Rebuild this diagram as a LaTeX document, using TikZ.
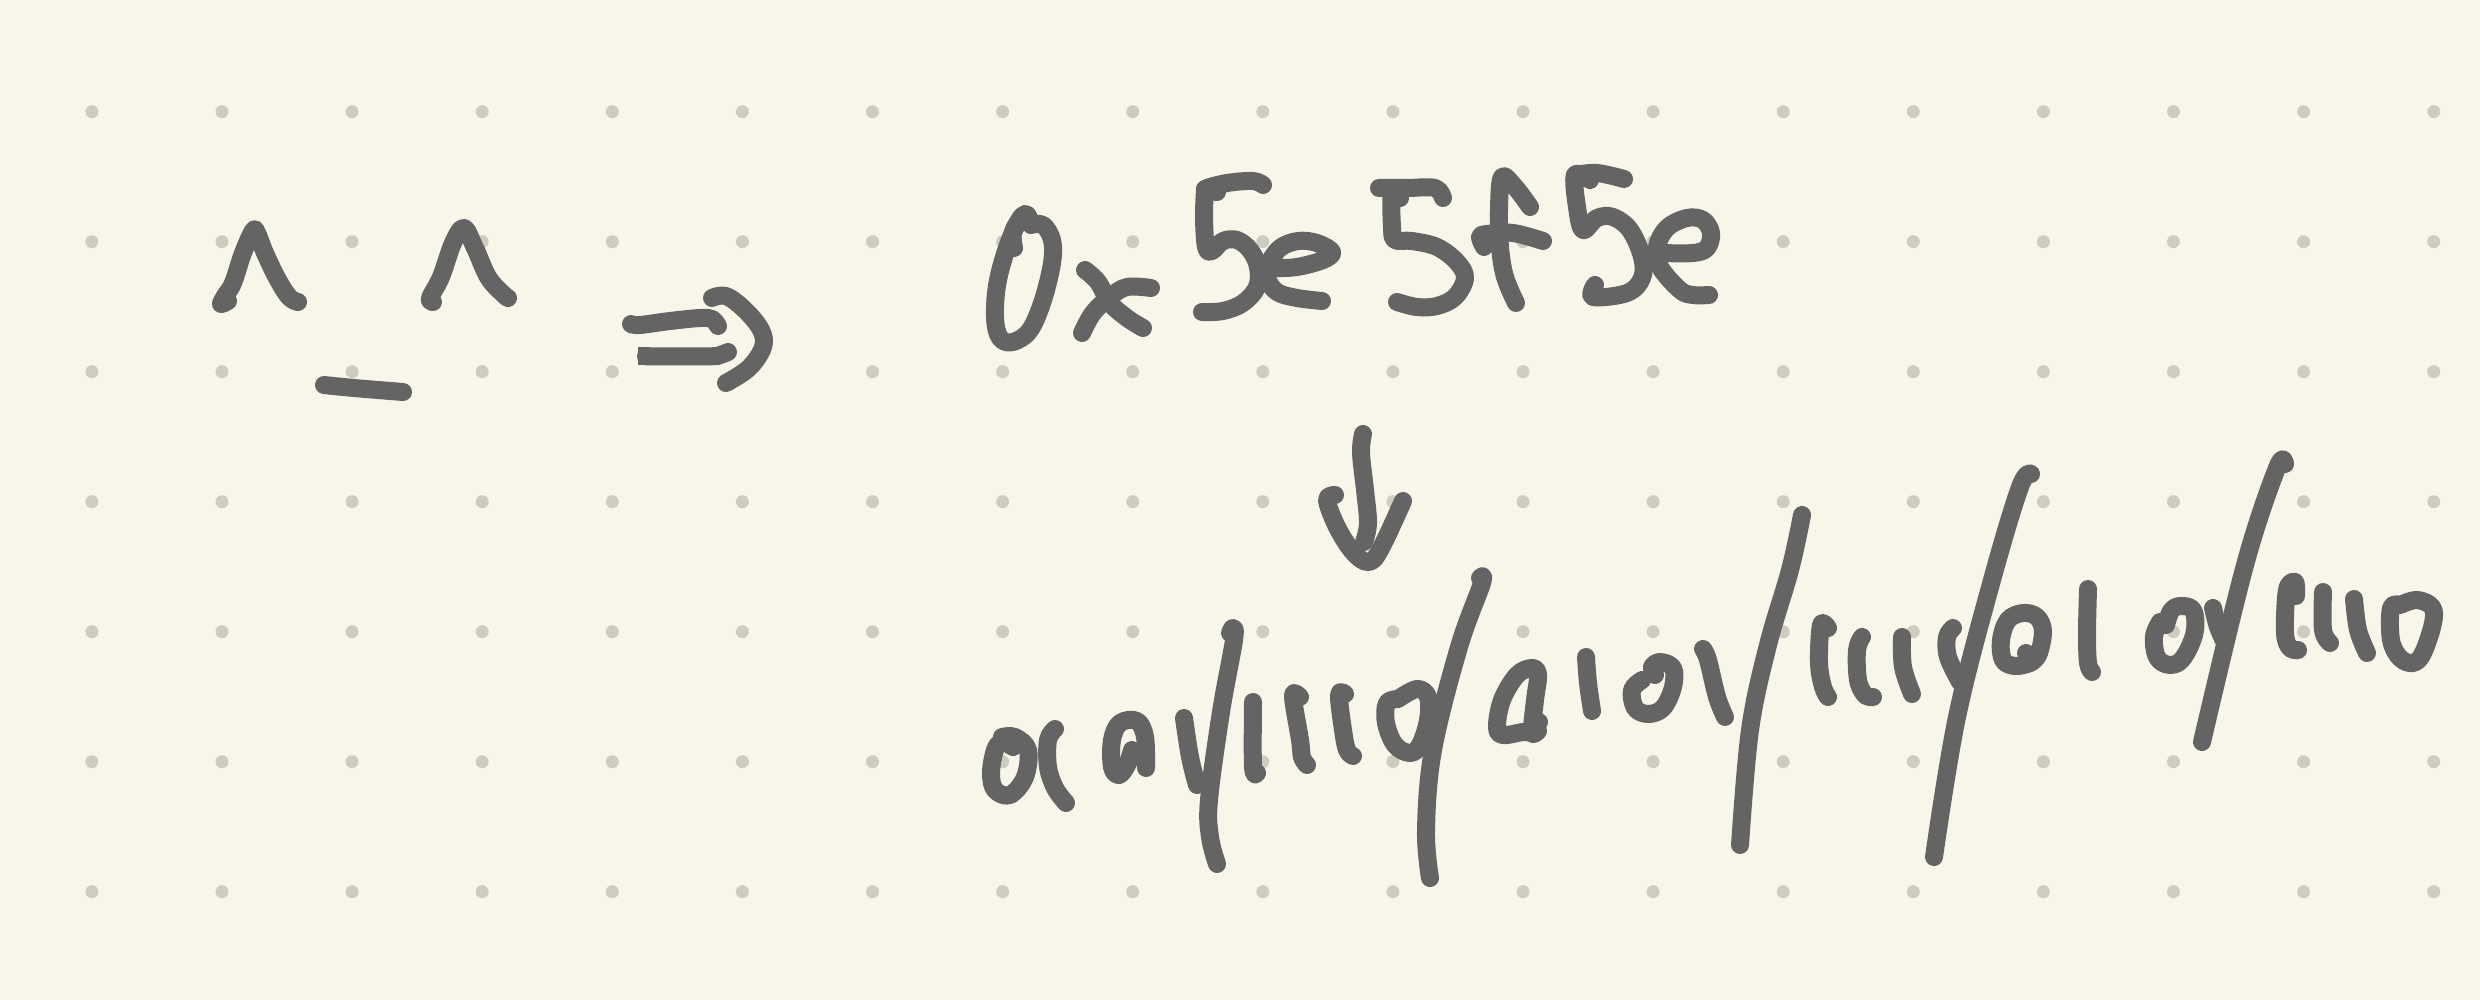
\documentclass[tikz,border=0pt]{standalone}
\definecolor{paperbg}{HTML}{F8F6E9}
\definecolor{inkgrey}{HTML}{646464}
\definecolor{dotgrey}{HTML}{CECCBE}
\tikzset{pen/.style={draw=inkgrey,line width=18pt,line cap=round,line join=round}}
\newcommand\ink[1]{\draw[pen] plot[smooth,tension=.6] coordinates {#1};}
\begin{document}
\begin{tikzpicture}[x=1pt,y=-1pt]
\useasboundingbox (0,0) rectangle (2480,1000);
\fill[paperbg] (0,0) rectangle (2480,1000);
\foreach \k in {0,...,18}\foreach \r in {0,...,6}{
  \fill[dotgrey] ({91.9+130.1*\k},{111.7+130*\r}) circle (6.5pt);}
% caret 1
\ink{(228,301)(221,304)(225,296)(233,283)(243,253)(253,231)(257,233)(265,253)(277,278)(289,297)(298,302)}
% dash
\ink{(324,385)(354,388)(403,392)}
% caret 2
\ink{(433,302)(430,298)(441,277)(453,243)(464,228)(475,248)(488,277)(502,293)(508,298)}
% arrow
\ink{(631,324)(640,325)(670,321)(700,318)(712,319)(718,326)}
\draw[pen,line cap=butt] (638,356.3) -- (650,356.3);
\ink{(646,356.3)(710,356.3)(720,355)(728,352)}
\ink{(712,298)(726,296)(745,310)(761,330)(763,347)(749,368)(726,383)}
% 0
\ink{(1031,225)(1025,214)(1011,237)(998,280)(995,317)(1000,338)(1013,342)(1030,330)(1043,300)(1052,263)(1052,240)(1043,225)(1031,225)}
\ink{(1014,248)(1013,232)(1022,216)}
% x
\ink{(1085,270)(1098,282)(1110,303)(1127,318)(1143,328)}
\ink{(1082,333)(1093,313)(1110,297)(1127,287)(1151,288)}
% 5
\ink{(1263,185)(1253,181)(1227,183)(1205,189)(1217,192)}
\ink{(1205,190)(1204,217)(1206,247)(1212,251)(1223,241)(1237,240)(1250,250)(1258,267)(1257,287)(1243,303)(1223,311)(1202,312)}
% e
\ink{(1275,268)(1297,267)(1323,260)(1332,252)(1317,243)(1298,241)(1280,248)(1268,265)(1267,278)(1277,292)(1297,298)(1322,301)}
% 5
\ink{(1379,188)(1407,188)(1435,188)(1443,198)}
\ink{(1400,198)(1392,193)(1392,227)(1395,240)(1412,241)(1437,247)(1457,262)(1465,278)(1455,297)(1437,306)(1417,307)(1397,302)}
% f
\ink{(1516,303)(1505,277)(1500,247)(1499,210)(1502,177)(1515,187)(1530,207)}
\ink{(1484,247)(1480,237)(1487,234)(1513,233)(1543,241)}
% 5
\ink{(1575,175)(1597,173)(1624,179)}
\ink{(1590,180)(1575,175)(1577,207)(1583,230)(1597,218)(1613,217)(1630,230)(1642,257)(1642,278)(1627,293)(1593,297)(1595,285)}
% e
\ink{(1662,253)(1693,253)(1707,248)(1711,233)(1703,220)(1687,218)(1667,228)(1657,247)(1660,267)(1680,290)(1693,295)(1709,295)}
% down arrow
\ink{(1363,434)(1361,453)(1365,490)(1368,523)(1364,542)}
\ink{(1335,495)(1327,500)(1337,527)(1353,552)(1368,562)(1380,550)(1403,501)}
% 0 1
\ink{(1002,737)(1015,737)(1028,750)(1025,777)(1010,795)(995,790)(991,773)(995,750)(1002,742)(1013,747)}
\ink{(1055,729)(1048,740)(1048,767)(1055,788)(1066,803)}
% a
\ink{(1132,750)(1127,765)(1119,775)(1112,767)(1112,740)(1120,723)(1137,721)(1145,737)(1146,768)}
\ink{(1132,753)(1146,752)}
% v slash
\ink{(1184,718)(1190,757)(1197,785)}
\ink{(1230,633)(1233,628)(1234,640)(1221,712)(1209,800)(1210,837)(1217,864)}
\ink{(1253,702)(1253,767)(1257,773)}
\ink{(1300,697)(1293,696)(1300,740)(1302,757)(1307,765)}
\ink{(1345,694)(1339,695)(1343,730)(1347,750)(1353,756)}
\ink{(1398,699)(1387,703)(1386,723)(1395,745)(1410,753)(1420,745)(1428,720)(1428,697)(1417,689)(1398,699)}
\ink{(1480,578)(1482,583)(1459,647)(1433,750)(1426,830)(1430,878)}
% a
\ink{(1539,722)(1532,732)(1523,732)(1503,735)(1497,727)(1502,700)(1517,675)(1532,668)(1538,675)(1535,700)(1532,732)(1538,731)}
\ink{(1586,657)(1588,683)(1592,711)}
\ink{(1655,675)(1652,667)(1660,662)(1673,668)(1673,687)(1663,708)(1648,714)(1635,708)(1632,690)(1642,680)}
\ink{(1703,649)(1708,660)(1717,697)(1725,717)}
\ink{(1802,515)(1790,570)(1768,645)(1750,730)(1740,845)}
\ink{(1828,628)(1821,625)(1819,663)(1823,687)(1828,697)}
\ink{(1862,637)(1857,650)(1858,680)(1865,695)(1873,697)}
\ink{(1902,637)(1903,667)(1912,694)}
\ink{(1953,628)(1947,637)(1948,657)(1960,682)}
\ink{(2031,474)(2020,487)(1992,580)(1957,717)(1934,857)}
\ink{(2026,653)(2037,657)(2043,632)(2037,617)(2023,613)(2008,620)(2001,640)(2003,660)(2015,666)(2030,663)(2037,657)}
\ink{(2088,589)(2087,633)(2088,663)(2092,672)}
\ink{(2166,625)(2171,611)(2180,606)(2193,610)(2195,630)(2188,650)(2178,663)(2165,664)(2156,655)(2154,636)(2160,622)}
\ink{(2213,608)(2218,627)(2225,643)}
\ink{(2285,464)(2277,468)(2245,565)(2202,742)}
\ink{(2296,596)(2295,582)(2287,590)(2285,633)(2290,648)(2298,650)}
\ink{(2323,592)(2323,630)(2330,643)}
\ink{(2354,599)(2358,630)(2367,653)}
\ink{(2400,605)(2391,608)(2391,640)(2400,658)(2413,663)(2423,653)(2433,623)(2432,607)(2417,600)(2400,605)}
\end{tikzpicture}
\end{document}
